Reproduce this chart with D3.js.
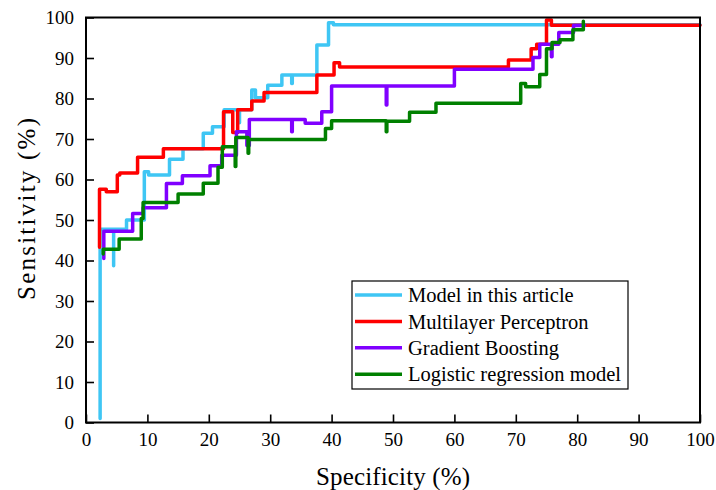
<!DOCTYPE html>
<html>
<head>
<meta charset="utf-8">
<script src="https://cdn.jsdelivr.net/npm/d3@7"></script>
<style>
  body { margin: 0; background: #fff; }
  text { font-family: "Liberation Serif", "Times New Roman", serif; fill: #000; }
</style>
</head>
<body>
<div id="chart"></div>
<script>
// series names / colours (legend order)
const seriesNames = ["Model in this article", "Multilayer Perceptron", "Gradient Boosting", "Logistic regression model"];
const seriesColors = ["#3fc6f4", "#ff0000", "#8000ff", "#008000"];

// [specificity, sensitivity] — at each x the curve steps to the new y
const modelPts = [[2.3, 1], [2.3, 47.7], [4.5, 38.7], [4.5, 47.7], [6.6, 50], [9.5, 61.9], [10.2, 61.1],
  [13.6, 65], [15.8, 67.6], [19.1, 71.4], [20.6, 73], [22.5, 77.2], [25.0, 74.0], [25.0, 77.2],
  [27, 82.1], [27.6, 80.2], [29.6, 83.3], [31.9, 85.8], [33.5, 83.7], [33.6, 85.8], [37.6, 93.2],
  [39.5, 98.7], [40.3, 98.2], [100, 98.2]];

const mlpPts = [[2.2, 43.3], [2.2, 57.6], [3.3, 57.0], [5.1, 61.1], [5.5, 61.6], [8.4, 65.5], [12.6, 67.6],
  [22.4, 76.7], [23.9, 71.6], [24.7, 77.2], [27, 79.4], [29, 81.5], [37.6, 85.8], [40.4, 88.8],
  [41.3, 87.8], [68.8, 89.5], [72.5, 92.3], [73.4, 93.4], [75, 99.4], [75.8, 98.1], [100, 98.1]];

const gbPts = [[2.9, 40.5], [2.9, 47.2], [7.6, 51.6], [9.3, 53.0], [13.1, 59.0], [15.7, 60.9], [20.2, 63.4],
  [22.1, 66.0], [24.5, 71.8], [26.2, 68.4], [26.6, 74.8], [33.5, 71.8], [33.6, 74.8], [35.7, 73.9],
  [38.4, 76.7], [40, 83.1], [48.9, 78.4], [49.0, 83.1], [60, 87.2], [72.8, 90.1], [73.9, 93.4],
  [75.8, 90.3], [75.9, 93.4], [77.0, 96.3], [79.4, 98.0], [81.2, 98.0]];

const lrPts = [[2.8, 41.6], [2.8, 42.8], [5.4, 45.3], [9.0, 50.4], [9.3, 54.3], [15.0, 56.4], [19.1, 59.1],
  [21.5, 63.0], [22.2, 68.1], [24.3, 63.2], [24.4, 70.4], [26.4, 66.5], [26.5, 69.9], [39.0, 72.6],
  [40, 74.5], [48.9, 71.8], [49.0, 74.4], [52.7, 76.6], [57, 78.8], [70.8, 83.7], [71.6, 82.9],
  [73.9, 85.9], [75, 92.3], [75.9, 93.8], [77.2, 94.5], [79.3, 97.0], [81, 99.1]];

const allSeries = [modelPts, mlpPts, gbPts, lrPts];
const tickValues = [0, 10, 20, 30, 40, 50, 60, 70, 80, 90, 100];

const margin = { top: 17.5, right: 16, bottom: 67.5, left: 86 };
const W = 716, H = 490;
const width = W - margin.left - margin.right;
const height = H - margin.top - margin.bottom;

const svg = d3.select("#chart").append("svg")
    .attr("width", W)
    .attr("height", H);

const g = svg.append("g")
    .attr("transform", "translate(" + margin.left + "," + margin.top + ")");

const x = d3.scaleLinear().domain([0, 100]).range([0, width]);
const y = d3.scaleLinear().domain([0, 100]).range([height, 0]);

// curves
const line = d3.line()
    .x(d => x(d[0]))
    .y(d => y(d[1]))
    .curve(d3.curveStepAfter);

g.selectAll(".roc")
  .data(allSeries)
  .enter().append("path")
    .attr("class", "roc")
    .attr("d", line)
    .attr("fill", "none")
    .attr("stroke", (d, i) => seriesColors[i])
    .attr("stroke-width", 3.5)
    .attr("stroke-linejoin", "round")
    .attr("stroke-linecap", "round");

// axes (ticks point inward)
const xAxis = d3.axisBottom(x).tickValues(tickValues).tickSizeInner(-8).tickSizeOuter(0).tickPadding(10);
const yAxis = d3.axisLeft(y).tickValues(tickValues).tickSizeInner(-8).tickSizeOuter(0).tickPadding(12);

const xg = g.append("g").attr("transform", "translate(0," + height + ")").call(xAxis);
const yg = g.append("g").call(yAxis);

[xg, yg].forEach(a => {
  a.select(".domain").remove();
  a.selectAll("line").attr("stroke", "#000").attr("stroke-width", 1.6);
  a.selectAll("text").style("font-size", "19px");
});

// frame
g.append("rect")
    .attr("width", width)
    .attr("height", height)
    .attr("fill", "none")
    .attr("stroke", "#000")
    .attr("stroke-width", 2);

// axis titles
svg.append("text")
    .attr("x", margin.left + width / 2)
    .attr("y", 485)
    .attr("text-anchor", "middle")
    .attr("textLength", 154)
    .attr("lengthAdjust", "spacing")
    .style("font-size", "25px")
    .text("Specificity (%)");

svg.append("text")
    .attr("transform", "translate(35," + 209 + ") rotate(-90)")
    .attr("text-anchor", "middle")
    .attr("textLength", 182)
    .attr("lengthAdjust", "spacing")
    .style("font-size", "25px")
    .text("Sensitivity (%)");

// legend
const legend = svg.append("g").attr("transform", "translate(352,281)");
legend.append("rect")
    .attr("width", 276)
    .attr("height", 108)
    .attr("fill", "#fff")
    .attr("stroke", "#000")
    .attr("stroke-width", 1.2);

const item = legend.selectAll(".item")
  .data(seriesNames)
  .enter().append("g")
    .attr("class", "item")
    .attr("transform", (d, i) => "translate(0," + (14 + i * 26.4) + ")");

item.append("line")
    .attr("x1", 3).attr("x2", 50)
    .attr("stroke", (d, i) => seriesColors[i])
    .attr("stroke-width", 3.5);

item.append("text")
    .attr("x", 56)
    .attr("dy", "0.35em")
    .style("font-size", "20.5px")
    .text(d => d);
</script>
</body>
</html>
